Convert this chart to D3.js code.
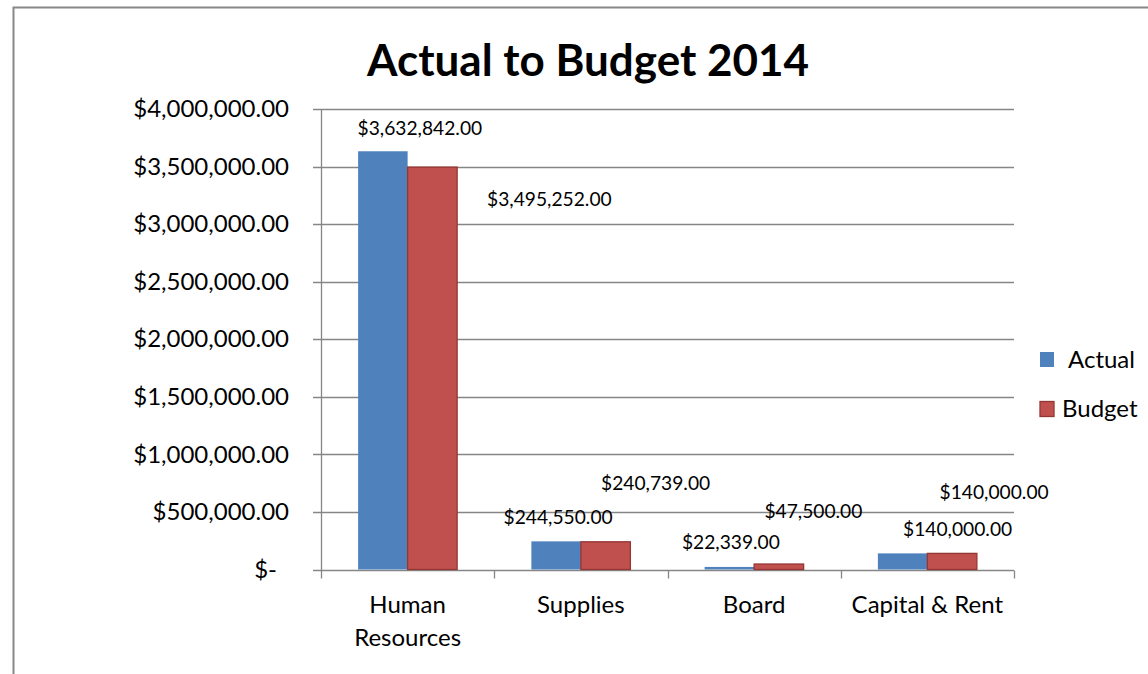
<!DOCTYPE html>
<html>
<head>
<meta charset="utf-8">
<script src="https://cdn.jsdelivr.net/npm/d3@7"></script>
<style>
  html, body { margin: 0; padding: 0; background: #fff; }
  svg { display: block; font-family: Lato, "Open Sans", sans-serif; }
</style>
</head>
<body>
<svg id="chart" width="1148" height="674"></svg>
<script>
// Expense categories and the two series compared per category
const categories = ["Human Resources", "Supplies", "Board", "Capital & Rent"];
const categoryLines = [["Human", "Resources"], ["Supplies"], ["Board"], ["Capital & Rent"]];
const seriesNames = ["Actual", "Budget"];
const actual = [3632842, 244550, 22339, 140000];
const budget = [3495252, 240739, 47500, 140000];
const yTicks = [0, 500000, 1000000, 1500000, 2000000, 2500000, 3000000, 3500000, 4000000];
const yTickLabels = ["$-", "$500,000.00", "$1,000,000.00", "$1,500,000.00", "$2,000,000.00",
                     "$2,500,000.00", "$3,000,000.00", "$3,500,000.00", "$4,000,000.00"];
const titleText = "Actual to Budget 2014";

// Layout and styling
const plot = { left: 321, right: 1014, top: 109, bottom: 569.5 };
const colors = { Actual: "#4f81bd", Budget: "#c0504d" };
const strokes = { Actual: "#4a7ab3", Budget: "#943634" };
const axisColor = "#868686";
const labelFont = 24;
const valueFont = 19.2;
// hand-placed value labels: offset of the label centre from the bar's top centre
const labelShift = {
  Actual: [[37, -23], [2, -24], [1.5, -25], [55, -24]],
  Budget: [[117, 32], [50, -59], [34.5, -53], [42, -61]]
};

const svg = d3.select("#chart");

// outer chart frame
svg.append("rect")
  .attr("x", 13.5).attr("y", 7.5)
  .attr("width", 1148).attr("height", 700)
  .attr("fill", "#fff").attr("stroke", "#888").attr("stroke-width", 2);

const x0 = d3.scaleBand().domain(categories).range([plot.left, plot.right]).paddingInner(0).paddingOuter(0);
const x1 = d3.scaleBand().domain(seriesNames).range([0, x0.bandwidth()]).paddingInner(0).paddingOuter(0.75);
const y = d3.scaleLinear().domain([0, 4000000]).range([plot.bottom, plot.top]);

// title
svg.append("text")
  .attr("x", 588).attr("y", 76)
  .attr("text-anchor", "middle")
  .attr("font-weight", "bold").attr("font-size", 44)
  .attr("fill", "#000")
  .text(titleText);

// horizontal gridlines
svg.append("g").selectAll("line").data(yTicks).join("line")
  .attr("x1", plot.left - 8).attr("x2", plot.right)
  .attr("y1", d => Math.round(y(d)) + 0.5).attr("y2", d => Math.round(y(d)) + 0.5)
  .attr("stroke", axisColor).attr("stroke-width", 1.3);

// y axis
const yAxis = d3.axisLeft(y).tickValues(yTicks).tickSize(0).tickPadding(32)
  .tickFormat((d, i) => yTickLabels[i]);
const gy = svg.append("g").attr("transform", `translate(${plot.left},0)`).call(yAxis);
gy.select(".domain").attr("stroke", axisColor).attr("stroke-width", 1.3);
gy.selectAll("text").attr("font-size", labelFont).attr("fill", "#000")
  .attr("font-family", "Lato, sans-serif")
  .attr("dx", (d, i) => i === 0 ? -12 : 0);

// x axis with category boundary ticks
const gx = svg.append("g").attr("transform", `translate(0,${Math.round(plot.bottom) + 0.5})`);
const bounds = categories.map(c => x0(c)).concat([plot.right]);
gx.selectAll("line.tick").data(bounds).join("line")
  .attr("class", "tick")
  .attr("x1", d => Math.round(d) + 0.5).attr("x2", d => Math.round(d) + 0.5)
  .attr("y1", 0).attr("y2", 8)
  .attr("stroke", axisColor).attr("stroke-width", 1.3);

// category labels
categories.forEach((c, i) => {
  const t = gx.append("text")
    .attr("x", x0(c) + x0.bandwidth() / 2)
    .attr("y", 42)
    .attr("text-anchor", "middle")
    .attr("font-size", labelFont).attr("fill", "#000");
  categoryLines[i].forEach((line, j) => {
    t.append("tspan").attr("x", x0(c) + x0.bandwidth() / 2).attr("dy", j === 0 ? 0 : 33).text(line);
  });
});

// bars
const seriesValues = { Actual: actual, Budget: budget };
seriesNames.forEach(s => {
  svg.append("g").selectAll("rect")
    .data(categories.map((c, i) => ({ c, v: seriesValues[s][i], i })))
    .join("rect")
    .attr("x", d => x0(d.c) + x1(s))
    .attr("y", d => y(d.v))
    .attr("width", x1.bandwidth())
    .attr("height", d => plot.bottom - y(d.v))
    .attr("fill", colors[s])
    .attr("stroke", s === "Budget" ? strokes[s] : "none")
    .attr("stroke-width", 1.3);
});

// value labels
const fmt = d3.format("$,.2f");
seriesNames.forEach(s => {
  svg.append("g").selectAll("text")
    .data(categories.map((c, i) => ({ c, v: seriesValues[s][i], i })))
    .join("text")
    .attr("x", d => x0(d.c) + x1(s) + x1.bandwidth() / 2 + labelShift[s][d.i][0])
    .attr("y", d => y(d.v) + labelShift[s][d.i][1])
    .attr("dy", "0.35em")
    .attr("text-anchor", "middle")
    .attr("font-size", valueFont).attr("fill", "#000")
    .text(d => fmt(d.v));
});

// legend
const legendRows = [
  { name: "Actual", y: 359.5, textX: 1068 },
  { name: "Budget", y: 409, textX: 1062 }
];
const lg = svg.append("g");
legendRows.forEach(r => {
  lg.append("rect")
    .attr("x", 1040).attr("y", r.y - 7.5).attr("width", 14).attr("height", 15)
    .attr("fill", colors[r.name])
    .attr("stroke", r.name === "Budget" ? strokes.Budget : "none").attr("stroke-width", 1.3);
  lg.append("text")
    .attr("x", r.textX).attr("y", r.y).attr("dy", "0.35em")
    .attr("font-size", labelFont).attr("fill", "#000")
    .text(r.name);
});
</script>
</body>
</html>
